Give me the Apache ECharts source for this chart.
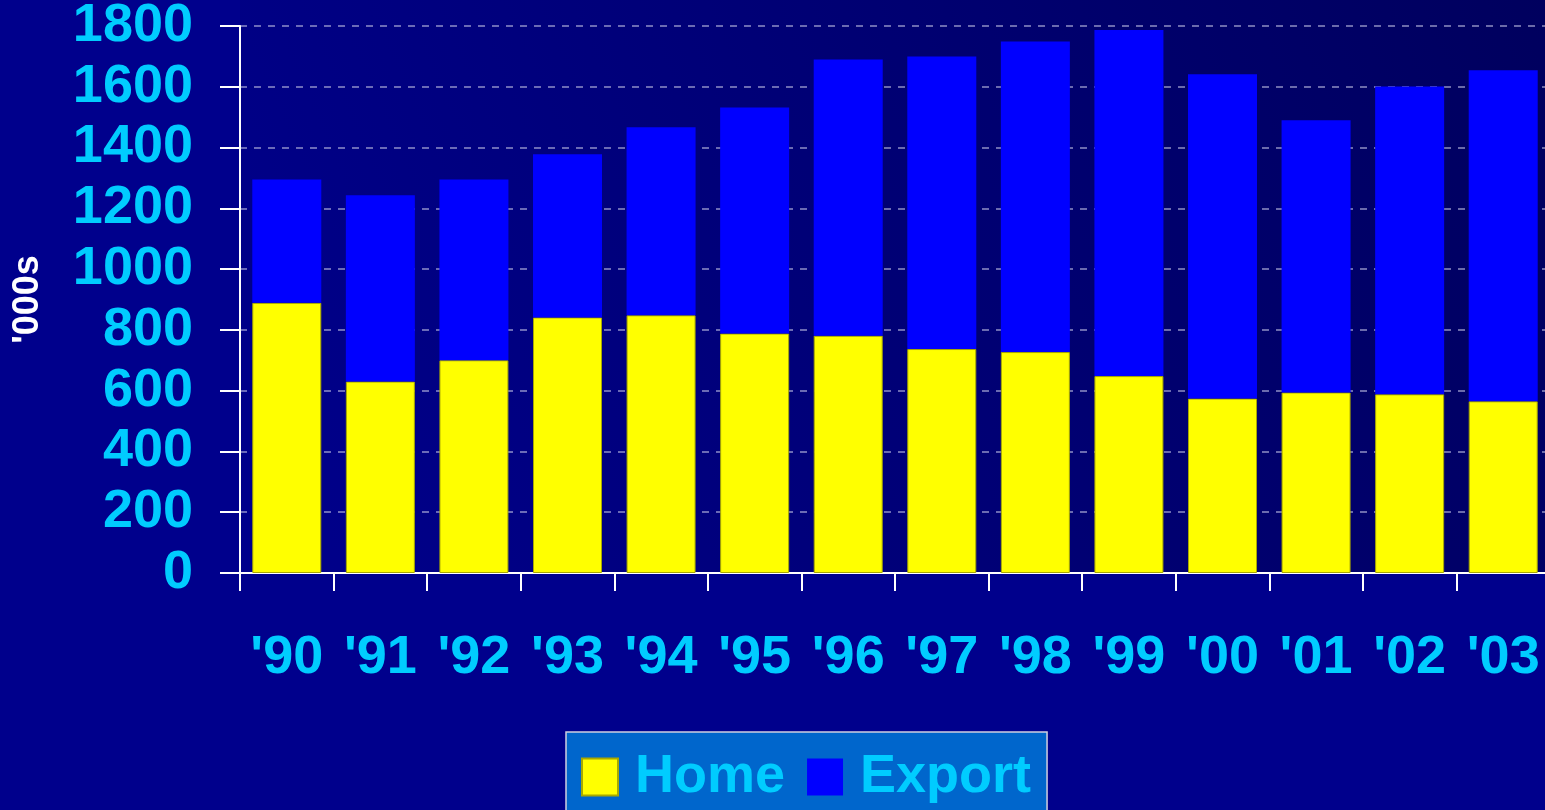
<!DOCTYPE html>
<html>
<head>
<meta charset="utf-8">
<script src="https://cdn.jsdelivr.net/npm/echarts@6/dist/echarts.min.js"></script>
<style>
html,body{margin:0;padding:0;background:#00008c;overflow:hidden;}
#chart{width:1550px;height:810px;}
</style>
</head>
<body>
<div id="chart"></div>
<script>
const categories = ["'90","'91","'92","'93","'94","'95","'96","'97","'98","'99","'00","'01","'02","'03"];
const homeValues = [889, 630, 700, 841, 848, 788, 781, 737, 727, 648, 574, 594, 588, 565];
const exportValues = [406, 613, 595, 537, 619, 744, 909, 963, 1022, 1139, 1067, 896, 1013, 1089];
const seriesNames = ["Home", "Export"];
const yMin = 0, yMax = 1800, yStep = 200;
const yAxisTitle = "'000s";

const FONT = '"Liberation Sans", Arial, sans-serif';
const CYAN = '#00ccff';

const chart = echarts.init(document.getElementById('chart'), null, {renderer: 'canvas'});
chart.setOption({
  backgroundColor: '#00008c',
  animation: false,
  graphic: [{
    type: 'rect', z: -10, silent: true,
    shape: {x: 240, y: 0, width: 1310, height: 573},
    style: {fill: {type: 'linear', x: 0, y: 1, x2: 1, y2: 0,
      colorStops: [{offset: 0, color: '#00008c'}, {offset: 1, color: '#00005e'}]}}
  }],
  grid: {left: 240, top: 26, right: 0, height: 547, containLabel: false, outerBoundsMode: 'none'},
  legend: {
    data: seriesNames,
    left: 566, top: 732,
    orient: 'horizontal',
    backgroundColor: '#0066cc',
    borderColor: '#d0d0e0', borderWidth: 1.5,
    padding: [18, 16, 40, 15],
    itemWidth: 36, itemHeight: 37, itemGap: 22,
    icon: 'rect',
    textStyle: {color: CYAN, fontSize: 54, fontWeight: 'bold', fontFamily: FONT, padding: [0, 0, 0, 12]}
  },
  xAxis: {
    type: 'category', data: categories,
    axisLine: {show: true, lineStyle: {color: '#ffffff', width: 2}},
    axisTick: {show: true, length: 18, lineStyle: {color: '#ffffff', width: 2}, alignWithLabel: false},
    axisLabel: {color: CYAN, fontSize: 54, fontWeight: 'bold', fontFamily: FONT, margin: 58, interval: 0},
    splitLine: {show: false}
  },
  yAxis: {
    type: 'value', min: yMin, max: yMax, interval: yStep,
    name: yAxisTitle, nameLocation: 'middle', nameRotate: 90, nameGap: 194,
    nameTextStyle: {color: '#ffffff', fontSize: 36, fontWeight: 'bold', fontFamily: FONT},
    axisLine: {show: true, lineStyle: {color: '#ffffff', width: 2}},
    axisTick: {show: true, length: 20, lineStyle: {color: '#ffffff', width: 2}},
    axisLabel: {color: CYAN, fontSize: 54, fontWeight: 'bold', fontFamily: FONT, margin: 47,
      formatter: function (v) { return String(v); }},
    splitLine: {show: true, lineStyle: {color: 'rgba(190,190,225,0.75)', width: 1.5, type: [7, 7]}}
  },
  series: [
    {name: seriesNames[0], type: 'bar', stack: 'total', data: homeValues, barWidth: 69,
     itemStyle: {color: '#ffff00', borderColor: '#a8a800', borderWidth: 1}},
    {name: seriesNames[1], type: 'bar', stack: 'total', data: exportValues, barWidth: 69,
     itemStyle: {color: '#0000ff'}}
  ]
});
</script>
</body>
</html>
